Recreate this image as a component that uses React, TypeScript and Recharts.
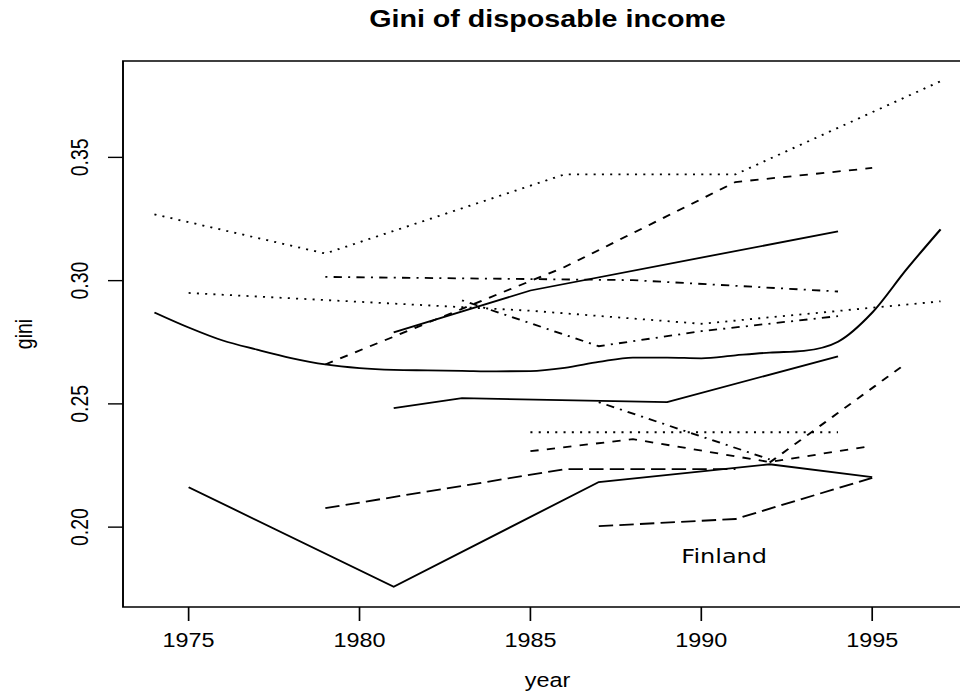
import React from "react";
import { LineChart, Line, XAxis, YAxis, ReferenceArea, ReferenceDot } from "recharts";

// gini by survey year, one pair of arrays per country line
const yearsA = [1974, 1979, 1986, 1991, 1997];
const giniA = [0.3269, 0.311, 0.3431, 0.3431, 0.3809];

const yearsB = [1979, 1986, 1991, 1995];
const giniB = [0.266, 0.3055, 0.34, 0.3457];

const yearsC = [1981, 1985, 1994];
const giniC = [0.279, 0.296, 0.32];

const yearsD = [1979, 1988, 1994];
const giniD = [0.3015, 0.3002, 0.2956];

const yearsE = [1975, 1985, 1990, 1997];
const giniE = [0.295, 0.2878, 0.2825, 0.2916];

const yearsF = [1983, 1987, 1990, 1994];
const giniF = [0.292, 0.2734, 0.2795, 0.2856];

const yearsG = [1974, 1975, 1976, 1977, 1978, 1979, 1980, 1981, 1982, 1983, 1984, 1985,
  1986, 1987, 1988, 1989, 1990, 1991, 1992, 1993, 1994, 1995, 1996, 1997];
const giniG = [0.2871, 0.281, 0.2757, 0.272, 0.2686, 0.266, 0.2645, 0.2638, 0.2636, 0.2634, 0.2632, 0.2633,
  0.2646, 0.267, 0.2688, 0.2688, 0.2685, 0.2697, 0.2708, 0.2715, 0.2752, 0.287, 0.3045, 0.3208];

const yearsH = [1981, 1983, 1989, 1994];
const giniH = [0.2483, 0.2523, 0.2507, 0.2693];

const yearsI = [1987, 1992];
const giniI = [0.2507, 0.2275];

const yearsJ = [1985, 1994];
const giniJ = [0.2385, 0.2385];

const yearsK = [1985, 1988, 1992, 1995];
const giniK = [0.2308, 0.2357, 0.2264, 0.233];

const yearsL = [1979, 1986, 1991];
const giniL = [0.2077, 0.2235, 0.2235];

const yearsM = [1975, 1981, 1987, 1992, 1995];
const giniM = [0.2162, 0.1758, 0.2183, 0.2255, 0.2203];

const yearsN = [1992, 1996];
const giniN = [0.2262, 0.2665];

const yearsO = [1987, 1991, 1995];
const giniO = [0.2004, 0.2033, 0.22];

const xTicks = [1975, 1980, 1985, 1990, 1995];
const yTicks = [0.2, 0.25, 0.3, 0.35];

const TITLE = "Gini of disposable income";
const NOTE = "Finland";
const NOTE_YEAR = 1990.67;
const NOTE_GINI = 0.1884;

// R-style extended ranges
const X_DOMAIN = [1973.08, 1997.92];
const Y_DOMAIN = [0.1676, 0.3891];

const FONT = "'Liberation Sans', Arial, Helvetica, sans-serif";

// lty patterns
const SOLID = undefined;
const DASHED = "6.9 6.9";
const DOTTED = "1.7 5.2";
const DOTDASH = "1.7 5.2 6.9 5.2";
const LONGDASH = "12 5.2";

const toRows = (years: number[], gini: number[]) =>
  years.map((year, i) => ({ year, gini: gini[i] }));

const series = [
  { id: "A", data: toRows(yearsA, giniA), dash: DOTTED },
  { id: "B", data: toRows(yearsB, giniB), dash: DASHED },
  { id: "C", data: toRows(yearsC, giniC), dash: SOLID },
  { id: "D", data: toRows(yearsD, giniD), dash: DOTDASH },
  { id: "E", data: toRows(yearsE, giniE), dash: DOTTED },
  { id: "F", data: toRows(yearsF, giniF), dash: DOTDASH },
  { id: "G", data: toRows(yearsG, giniG), dash: SOLID, curve: "monotone" },
  { id: "H", data: toRows(yearsH, giniH), dash: SOLID },
  { id: "I", data: toRows(yearsI, giniI), dash: DOTDASH },
  { id: "J", data: toRows(yearsJ, giniJ), dash: DOTTED },
  { id: "K", data: toRows(yearsK, giniK), dash: DASHED },
  { id: "L", data: toRows(yearsL, giniL), dash: LONGDASH },
  { id: "M", data: toRows(yearsM, giniM), dash: SOLID },
  { id: "N", data: toRows(yearsN, giniN), dash: DASHED },
  { id: "O", data: toRows(yearsO, giniO), dash: LONGDASH },
];

const YTick = (props: any) => {
  const { x, y, payload } = props;
  return (
    <text
      x={x}
      y={y}
      transform={`rotate(-90, ${x}, ${y})`}
      textAnchor="middle"
      fontSize={19.5}
      fontFamily={FONT}
      fill="#000"
    >
      {Number(payload.value).toFixed(2)}
    </text>
  );
};

const YLabel = (props: any) => {
  const vb = props.viewBox;
  const x = 26.7;
  const y = vb.y + vb.height / 2;
  return (
    <text x={x} y={y} transform={`rotate(-90, ${x}, ${y})`} textAnchor="middle"
      fontSize={19.5} fontFamily={FONT} fill="#000">
      gini
    </text>
  );
};

const XLabel = (props: any) => {
  const vb = props.viewBox;
  return (
    <text x={vb.x + vb.width / 2} y={687} textAnchor="middle"
      fontSize={19.5} fontFamily={FONT} fill="#000">
      year
    </text>
  );
};

const NoteLabel = (props: any) => {
  const vb = props.viewBox;
  return (
    <text x={vb.x + vb.width / 2} y={vb.y + vb.height / 2} dy="0.36em" textAnchor="middle"
      fontSize={20} fontFamily="'DejaVu Sans', sans-serif" fill="#000">
      {NOTE}
    </text>
  );
};

export default function App() {
  return (
    <div style={{ position: "fixed", left: 0, top: 0, width: 960, height: 697, overflow: "hidden", background: "#fff" }}>
      <div style={{ width: 830, height: 697, transform: "scaleX(1.2)", transformOrigin: "0 0" }}>
        <LineChart width={830} height={697} margin={{ top: 61, right: 20, bottom: 0, left: 0 }}>
          <XAxis
            type="number"
            dataKey="year"
            domain={X_DOMAIN}
            allowDataOverflow
            ticks={xTicks}
            axisLine={false}
            tickLine={{ stroke: "#000", strokeWidth: 1.4 }}
            tickSize={14}
            tickMargin={12}
            height={90}
            tick={{ fontSize: 19.5, fill: "#000", fontFamily: FONT }}
            label={XLabel}
          />
          <YAxis
            type="number"
            dataKey="gini"
            domain={Y_DOMAIN}
            allowDataOverflow
            ticks={yTicks}
            axisLine={false}
            tickLine={{ stroke: "#000", strokeWidth: 1.4 }}
            tickSize={12.5}
            tickMargin={17}
            width={102.5}
            tick={YTick}
            label={YLabel}
          />
          {series.map((s) => (
            <Line
              key={s.id}
              data={s.data}
              dataKey="gini"
              type={(s.curve as any) || "linear"}
              stroke="#000"
              strokeWidth={1.8}
              strokeDasharray={s.dash}
              dot={false}
              activeDot={false}
              isAnimationActive={false}
            />
          ))}
          <ReferenceArea
            x1={X_DOMAIN[0]}
            x2={X_DOMAIN[1]}
            y1={Y_DOMAIN[0]}
            y2={Y_DOMAIN[1]}
            fill="none"
            stroke="#000"
            strokeWidth={1.6}
            label={{ value: TITLE, position: "top", offset: 33.5, fontSize: 23.9, fontWeight: "bold", fill: "#000", fontFamily: FONT }}
          />
          <ReferenceDot x={NOTE_YEAR} y={NOTE_GINI} r={1} fill="none" stroke="none" label={NoteLabel} />
        </LineChart>
      </div>
    </div>
  );
}
